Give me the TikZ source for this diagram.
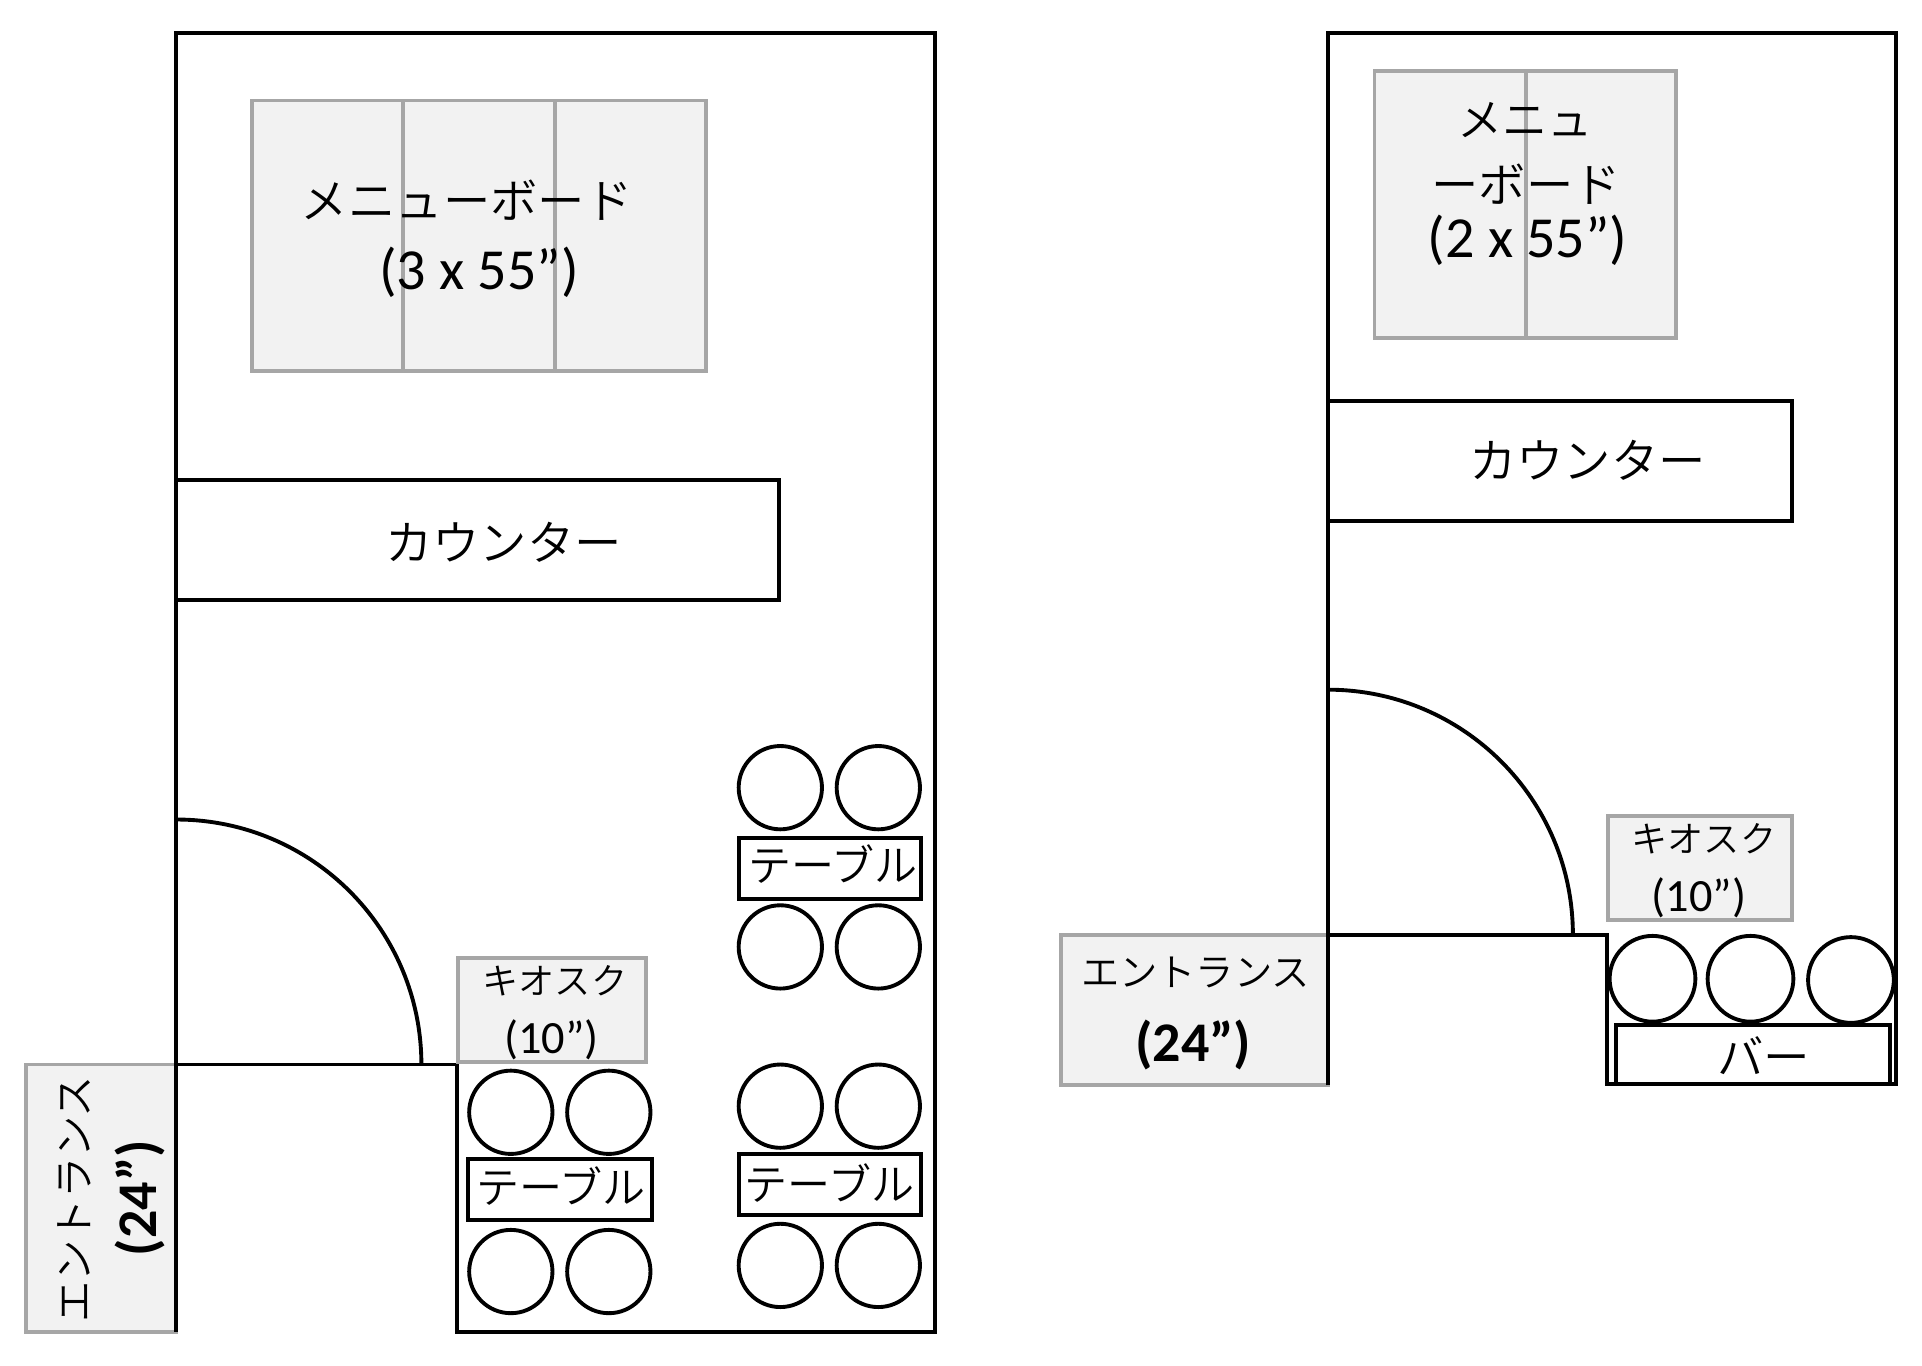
\documentclass[tikz,border=0pt]{standalone}
\usepackage{fontspec}
\setmainfont{Carlito}
\newfontfamily\jpfont{Noto Sans CJK JP DemiLight}
\newcommand{\jpsize}[1]{\jpfont\fontsize{#1}{#1}\selectfont}
\newcommand{\ltsize}[1]{\fontsize{#1}{#1}\selectfont}
\definecolor{panelfill}{HTML}{F2F2F2}
\definecolor{panelline}{HTML}{A6A6A6}
\tikzset{
wall/.style={draw=black, line width=1.8pt},
panel/.style={draw=panelline, fill=panelfill, line width=1.8pt},
lbl/.style={inner sep=0pt, outer sep=0pt}
}

\begin{document}
\begin{tikzpicture}[x=0.02cm, y=-0.02cm]
	\useasboundingbox (-1,-1) rectangle (1568,1114.1);
	% left shop
	\draw[panel] (20,868) rectangle (143,1086);
	\draw[wall] (143,1086) -- (143,26) -- (762,26) -- (762,1086) -- (372,1086) -- (372,868) -- (143,868);
	\draw[panel] (205,81) rectangle (575,302);
	\draw[panel] (328,81) -- (328,302) (452,81) -- (452,302);
	\draw[wall] (143,391) rectangle (635,489);
	\draw[wall] (143,668) arc[start angle=-90, end angle=0, radius=200];
	\draw[panel] (373,781) rectangle (526,866);
	\foreach \cx/\cy in {416/907,496/907,416/1037,496/1037,636/642,716/642,636/772,716/772,636/902,716/902,636/1032,716/1032}
		\draw[wall] (\cx,\cy) circle (34);
	\draw[wall] (381,945) rectangle (531,995);
	\draw[wall] (602,683) rectangle (751,733);
	\draw[wall] (602,941) rectangle (751,991);
	\node[lbl] (menuA) at (380,162) {\jpsize{22pt}メニューボード};
	\node[lbl] (menuAsize) at (390,221) {\ltsize{27pt}(3 x 55”)};
	\node[lbl] (counterA) at (410,442) {\jpsize{22pt}カウンター};
	\node[lbl] (kioskA) at (452,800) {\jpsize{16.8pt}キオスク};
	\node[lbl] (kioskAsize) at (449,848) {\ltsize{21.5pt}(10”)};
	\node[lbl, rotate=90] (entryA) at (60,978) {\jpsize{19.2pt}エントランス};
	\node[lbl, rotate=90] (entryAsize) at (113,977) {\ltsize{26pt}\bfseries (24”)};
	\node[lbl] (tableA) at (457,967) {\jpsize{20pt}テーブル};
	\node[lbl] (tableB) at (679,704) {\jpsize{20pt}テーブル};
	\node[lbl] (tableC) at (676,965) {\jpsize{20pt}テーブル};
	% right shop
	\draw[panel] (865,762) rectangle (1083,885);
	\draw[wall] (1083,885) -- (1083,26) -- (1547,26) -- (1547,884) -- (1309,884);
	\draw[wall] (1083,762) -- (1311,762) -- (1311,884);
	\draw[panel] (1121,57) rectangle (1367,275);
	\draw[panel] (1245,57) -- (1245,275);
	\draw[wall] (1083,326) rectangle (1462,424);
	\draw[wall] (1083,562) arc[start angle=-90, end angle=0, radius=200];
	\draw[panel] (1312,665) rectangle (1462,750);
	\foreach \cx/\cy in {1348/798,1428/798,1510/799}
		\draw[wall] (\cx,\cy) circle (35);
	\draw[wall] (1318,836) rectangle (1542,884);
	\node[lbl] (menuB) at (1244,97) {\jpsize{21pt}メニュ};
	\node[lbl] (menuBnext) at (1245,149) {\jpsize{22pt}ーボード};
	\node[lbl] (menuBsize) at (1246,195) {\ltsize{27pt}(2 x 55”)};
	\node[lbl] (counterB) at (1295,375) {\jpsize{22pt}カウンター};
	\node[lbl] (kioskB) at (1390,684) {\jpsize{16.8pt}キオスク};
	\node[lbl] (kioskBsize) at (1386,732) {\ltsize{21.5pt}(10”)};
	\node[lbl] (entryB) at (975,793) {\jpsize{17.8pt}エントランス};
	\node[lbl] (entryBsize) at (973,852) {\ltsize{26pt}\bfseries (24”)};
	\node[lbl] (barB) at (1439,861) {\jpsize{21.6pt}バー};
\end{tikzpicture}
\end{document}
